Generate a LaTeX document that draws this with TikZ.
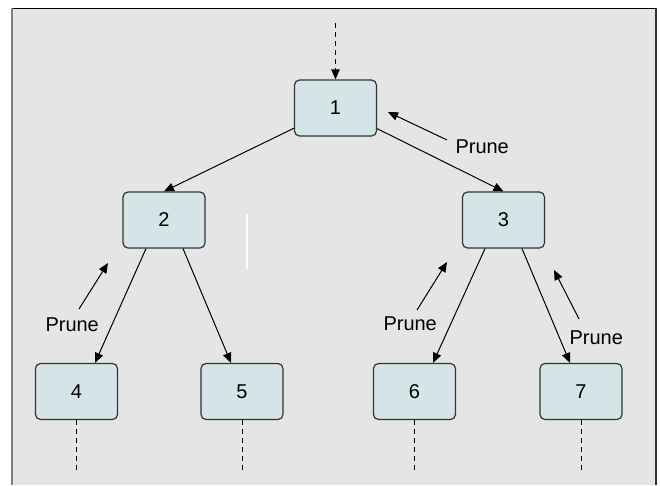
\documentclass[tikz,border=0pt]{standalone}
\usepackage{fontspec}
\setmainfont{Liberation Sans}
\usepackage{xcolor}
\usetikzlibrary{positioning}
\usetikzlibrary{arrows.meta}
\definecolor{boxfill}{RGB}{212,228,231}
\definecolor{panel}{RGB}{229,229,229}

\tikzset{
  block/.style={draw=black!80, fill=boxfill, rounded corners=5pt, line width=1.2pt,
    minimum width=82pt, minimum height=56pt, font=\fontsize{20}{24}\selectfont},
  prunelbl/.style={inner sep=0pt, anchor=base west, font=\fontsize{20}{24}\selectfont},
  trail/.style={dashed, dash pattern=on 5pt off 4pt}
}

\begin{document}
\begin{tikzpicture}[x=1pt,y=-1pt,node distance=100pt,on grid,line width=1pt,
    >={Triangle[length=10pt,width=8.5pt]}]
  \useasboundingbox (0,0) rectangle (660,485);
  % panel
  \fill[panel] (12,8) rectangle (656,485);
  \draw[black] (12,8) -- (656,8);
  \draw[black!50, line width=2pt] (12,8) -- (12,485);
  \draw[black!80, line width=1.5pt] (656,8) -- (656,485);
  \draw[white, line width=1.5pt] (247,214) -- (247,269);

  \node[block] (n1) at (335.5,108) {1};
  \node[block] (n2) [below left=112pt and 171.5pt of n1] {2};
  \node[block] (n3) [below right=112pt and 168pt of n1] {3};
  \node[block] (n4) [below left=171.5pt and 87.5pt of n2] {4};
  \node[block] (n5) [below right=171.5pt and 78pt of n2] {5};
  \node[block] (n6) [below left=171.5pt and 89pt of n3] {6};
  \node[block] (n7) [below right=171.5pt and 77.5pt of n3] {7};

  \coordinate (in1) at (335.5,23);
  \coordinate (o4) at ([yshift=-78pt]n4.center);
  \coordinate (o5) at ([yshift=-78pt]n5.center);
  \coordinate (o6) at ([yshift=-78pt]n6.center);
  \coordinate (o7) at ([yshift=-78pt]n7.center);

  \draw[->,trail] (in1) -- (n1);
  \draw[trail] (n4) -- (o4);
  \draw[trail] (n5) -- (o5);
  \draw[trail] (n6) -- (o6);
  \draw[trail] (n7) -- (o7);

  \draw[->] (n1) -- (n2.north);
  \draw[->] (n1) -- (n3.north);
  \draw[->] ([xshift=-18pt]n2.south) -- ([xshift=18.5pt]n4.north);
  \draw[->] ([xshift=19pt]n2.south) -- ([xshift=-11pt]n5.north);
  \draw[->] ([xshift=-18.5pt]n3.south) -- ([xshift=18.5pt]n6.north);
  \draw[->] ([xshift=18.5pt]n3.south) -- ([xshift=-11pt]n7.north);

  % prune marks
  \node[prunelbl] (p1) at (455,153) {Prune};
  \node[prunelbl] (p2) at (45,331) {Prune};
  \node[prunelbl] (p3) at (383,330) {Prune};
  \node[prunelbl] (p4) at (569,344) {Prune};
  \coordinate (p1s) at (447,140);
  \coordinate (p1e) at (388,112);
  \coordinate (p2s) at (79,309);
  \coordinate (p2e) at (108,263);
  \coordinate (p3s) at (417,310);
  \coordinate (p3e) at (447,262);
  \coordinate (p4s) at (579,319);
  \coordinate (p4e) at (554,270);
  \draw[->] (p1s) -- (p1e);
  \draw[->] (p2s) -- (p2e);
  \draw[->] (p3s) -- (p3e);
  \draw[->] (p4s) -- (p4e);
\end{tikzpicture}
\end{document}
